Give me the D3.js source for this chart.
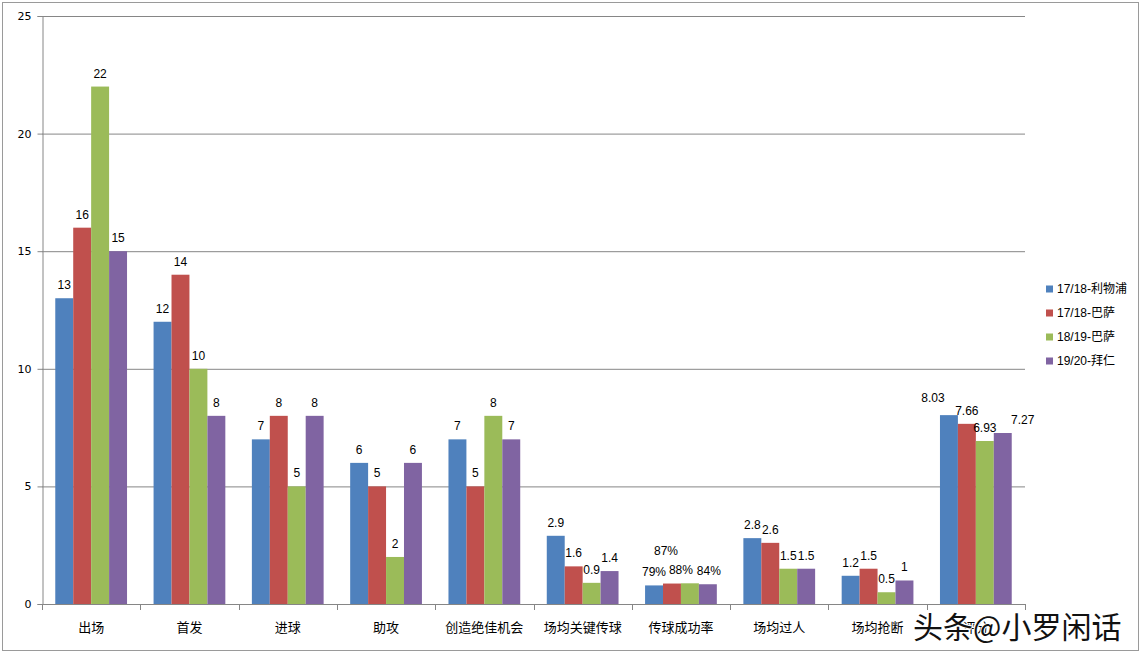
<!DOCTYPE html>
<html><head><meta charset="utf-8">
<script src="https://cdn.jsdelivr.net/npm/d3@7"></script>
<style>body{margin:0;background:#fff}svg{display:block}</style>
</head><body>
<script>
const categories = ["出场","首发","进球","助攻","创造绝佳机会","场均关键传球","传球成功率","场均过人","场均抢断","评分"];
const seriesNames = ["17/18-利物浦","17/18-巴萨","18/19-巴萨","19/20-拜仁"];
const s1 = [13,12,7,6,7,2.9,0.79,2.8,1.2,8.03];
const s2 = [16,14,8,5,5,1.6,0.87,2.6,1.5,7.66];
const s3 = [22,10,5,2,8,0.9,0.88,1.5,0.5,6.93];
const s4 = [15,8,8,6,7,1.4,0.84,1.5,1,7.27];
const yTicks = [0,5,10,15,20,25];
const percentCategory = "传球成功率";
const watermark = "头条@小罗闲话";

const colors = ["#4F81BD","#C0504D","#9BBB59","#8064A2"];
const series = [s1,s2,s3,s4];
// label nudges (rendering only): [dx, dy]
const nudge = {"6|1":[-6,-20],"6|2":[-9,0],"6|3":[1,0],"9|0":[-16,-4],"9|3":[20,0]};

const W=1141,H=654;
const svg=d3.select("body").append("svg").attr("width",W).attr("height",H);
svg.append("rect").attr("x",2.5).attr("y",2.5).attr("width",1136).attr("height",648)
  .attr("fill","#fff").attr("stroke","#9a9a9a");

const x0=d3.scaleBand().domain(categories).range([42,1025]).padding(0);
const bw=x0.bandwidth();
const x1=d3.scaleBand().domain(d3.range(4)).range([bw*0.135,bw*0.865]).padding(0);
const y=d3.scaleLinear().domain([0,25]).range([604,16]);

// gridlines
svg.append("g").selectAll("line").data(yTicks.filter(d=>d>0)).join("line")
  .attr("x1",42).attr("x2",1025).attr("y1",d=>y(d)+0.5).attr("y2",d=>y(d)+0.5)
  .attr("stroke","#868686").attr("stroke-width",1);

// bars
const g=svg.append("g");
categories.forEach((c,ci)=>{
  series.forEach((s,si)=>{
    const v=s[ci];
    g.append("rect").attr("x",x0(c)+x1(si)).attr("width",x1.bandwidth())
      .attr("y",y(v)).attr("height",y(0)-y(v)).attr("fill",colors[si]);
    const nd=nudge[ci+"|"+si]||[0,0];
    const txt = c===percentCategory ? Math.round(v*100)+"%" : String(v);
    g.append("text").attr("x",x0(c)+x1(si)+x1.bandwidth()/2+nd[0]).attr("y",y(v)-13+nd[1])
      .attr("text-anchor","middle").attr("dominant-baseline","central")
      .attr("font-family","Liberation Sans, Arial, sans-serif").attr("font-size",12).attr("fill","#000").text(txt);
  });
});

// y axis
const ya=d3.axisLeft(y).tickValues(yTicks).tickSize(5).tickPadding(6);
const yg=svg.append("g").attr("transform","translate(42.5,0)").call(ya);
yg.select(".domain").attr("stroke","#868686");
yg.selectAll(".tick line").attr("stroke","#868686");
yg.selectAll("text").attr("font-family","DejaVu Sans, Verdana, sans-serif").attr("font-size",11).attr("fill","#000");

// x axis
const xa=svg.append("g");
xa.append("line").attr("x1",42).attr("x2",1025).attr("y1",604.5).attr("y2",604.5).attr("stroke","#868686");
const bounds=categories.map(c=>x0(c)).concat([x0.range()[1]]);
xa.selectAll("line.t").data(bounds).join("line").attr("class","t")
  .attr("x1",d=>Math.round(d)+0.5).attr("x2",d=>Math.round(d)+0.5).attr("y1",604).attr("y2",610).attr("stroke","#868686");
xa.selectAll("text").data(categories).join("text")
  .attr("x",d=>x0(d)+x0.bandwidth()/2).attr("y",626).attr("text-anchor","middle").attr("dominant-baseline","central")
  .attr("font-family","Noto Sans CJK SC, sans-serif").attr("font-size",13).attr("fill","#000").text(d=>d);

// legend
const lg=svg.append("g");
seriesNames.forEach((n,i)=>{
  const yy=289+i*24;
  lg.append("rect").attr("x",1046).attr("y",yy-3.5).attr("width",7).attr("height",7).attr("fill",colors[i]);
  lg.append("text").attr("x",1057).attr("y",yy).attr("dominant-baseline","central")
    .attr("font-family","Liberation Sans, Noto Sans CJK SC, sans-serif").attr("font-size",12).attr("fill","#000").text(n);
});

// watermark
svg.append("text").attr("x",913).attr("y",625).attr("dominant-baseline","central")
  .attr("font-family","Noto Sans CJK SC, sans-serif").attr("font-size",30).attr("fill","#111")
  .attr("stroke","#fff").attr("stroke-width",2).attr("paint-order","stroke").text(watermark);
</script>
</body></html>
